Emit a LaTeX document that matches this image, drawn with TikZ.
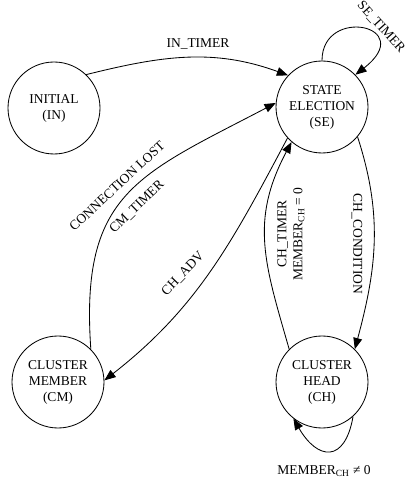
\documentclass[tikz,border=0pt]{standalone}
\usepackage{fontspec}
\setmainfont{Liberation Serif}
\usetikzlibrary{arrows.meta}
\begin{document}
\begin{tikzpicture}[>={Triangle[length=2.8mm,width=2.2mm]}, line width=0.6pt,
  font=\fontsize{9.6}{11.4}\selectfont,
  state/.style={circle, draw, minimum size=2.3cm, inner sep=0pt, align=center},
  lbl/.style={inner sep=1pt}]
  \useasboundingbox (0,0) rectangle (10.15,11.975);

  % states
  \node[state] (IN) at (1.35,9.275) {INITIAL\\(IN)};
  \node[state] (SE) at (8.05,9.3) {STATE\\ELECTION\\(SE)};
  \node[state] (CM) at (1.45,2.425) {CLUSTER\\MEMBER\\(CM)};
  \node[state] (CH) at (8.05,2.425) {CLUSTER\\HEAD\\(CH)};

  % transitions
  \draw[->] (IN.46) to[out=14, in=160] (SE.137);
  \draw[->] (SE.90) .. controls +(90:1.375) and +(38:2.0) .. (SE.44);
  \draw[->] (CM.45) to[out=94, in=207.6, looseness=1.3] (SE.175);
  \draw[->] (SE.222) to[out=242, in=38] (CM.2);
  \draw[->] (CH.135) to[out=106, in=242, looseness=1.1] (SE.229);
  \draw[->] (SE.-40) to[out=-72, in=75] (CH.45);
  \draw[->] (CH.-48) .. controls +(260:1.2) and +(300:1.2) .. (CH.232);

  % labels
  \node[lbl] (tIN) at (4.95,10.875) {IN\_TIMER};
  \node[lbl, rotate=-48] (tSE) at (9.525,11.3) {SE\_TIMER};
  \node[lbl, rotate=43] (tLOST) at (2.925,7.325) {CONNECTION LOST};
  \node[lbl, rotate=44] (tCM) at (3.425,6.8) {CM\_TIMER};
  \node[lbl, rotate=46] (tADV) at (4.575,5.125) {CH\_ADV};
  \node[lbl, rotate=90, align=center] (tCH) at (7.275,6.125) {CH\_TIMER\\MEMBER\textsubscript{CH} = 0};
  \node[lbl, rotate=-90] (tCOND) at (8.925,5.875) {CH\_CONDITION};
  \node[lbl] (tMEM) at (8.1,0.2) {MEMBER\textsubscript{CH} ≠ 0};
\end{tikzpicture}
\end{document}
